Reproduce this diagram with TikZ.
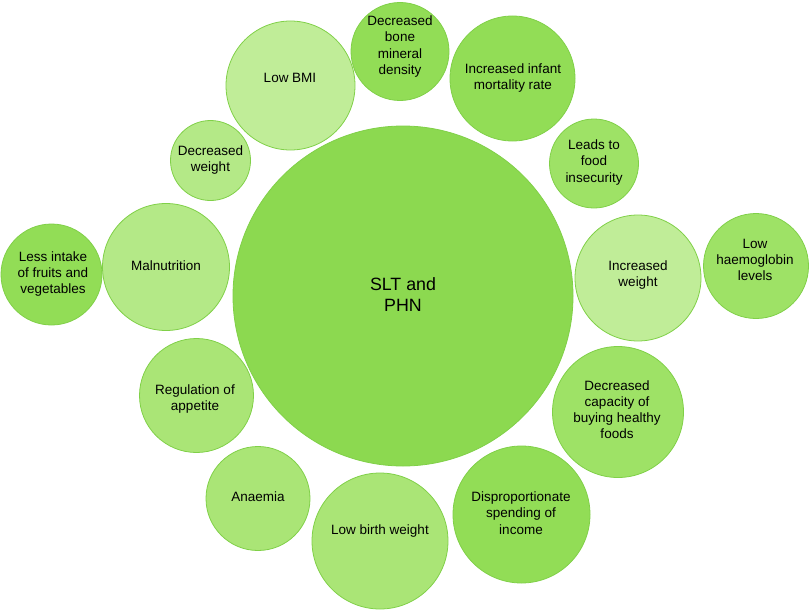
\documentclass[tikz,border=0pt]{standalone}
\usepackage{fontspec}
\setmainfont{Liberation Sans}
\definecolor{cCentral}{RGB}{140,217,80}
\definecolor{cLight}{RGB}{192,237,152}
\definecolor{cLightB}{RGB}{180,233,135}
\definecolor{cMid}{RGB}{170,229,118}
\definecolor{cDark}{RGB}{146,221,86}
\definecolor{cDarkB}{RGB}{158,226,102}
\definecolor{cEdge}{RGB}{128,208,72}
\tikzset{
  bub/.style={circle, draw=cEdge, line width=0.8pt, inner sep=0pt, minimum size=#1},
  txt/.style={align=center, font=\fontsize{13.5}{16.2}\selectfont, text=black, inner sep=0pt},
  bigtxt/.style={align=center, font=\fontsize{17.8}{21}\selectfont, text=black, inner sep=0pt}
}
\begin{document}
\begin{tikzpicture}[x=1pt,y=-1pt]
\useasboundingbox (0,0) rectangle (810,610);
% central
\node[bub=340pt, fill=cCentral] (c0) at (403,296) {};
\node[bigtxt] (t0) at (403,294.5) {SLT and\\PHN};
% top
\node[bub=129pt, fill=cLight] (c1) at (290.5,85.5) {};
\node[txt] (t1) at (290,78) {Low BMI};
\node[bub=98pt, fill=cDark] (c2) at (400,51.5) {};
\node[txt] (t2) at (400,46.5) {Decreased\\bone\\mineral\\density};
\node[bub=125pt, fill=cDark] (c3) at (512.5,78.5) {};
\node[txt] (t3) at (513,78) {Increased infant\\mortality rate};
\node[bub=89pt, fill=cDarkB] (c4) at (594,163.5) {};
\node[txt] (t4) at (594,162.5) {Leads to\\food\\insecurity};
% left
\node[bub=80pt, fill=cLightB] (c5) at (210.5,160.5) {};
\node[txt] (t5) at (210.5,160) {Decreased\\weight};
\node[bub=127pt, fill=cLightB] (c6) at (166,267) {};
\node[txt] (t6) at (166,266) {Malnutrition};
\node[bub=101pt, fill=cDark] (c7) at (51.5,274.5) {};
\node[txt] (t7) at (53,274) {Less intake\\of fruits and\\vegetables};
\node[bub=114pt, fill=cMid] (c8) at (196.5,395.5) {};
\node[txt] (t8) at (195,399) {Regulation of\\appetite};
% right
\node[bub=126pt, fill=cLight] (c9) at (638,278) {};
\node[txt] (t9) at (638,275) {Increased\\weight};
\node[bub=105pt, fill=cDarkB] (c10) at (756,266) {};
\node[txt] (t10) at (755,260) {Low\\haemoglobin\\levels};
\node[bub=131pt, fill=cDarkB] (c11) at (618,412) {};
\node[txt] (t11) at (617,409.5) {Decreased\\capacity of\\buying healthy\\foods};
% bottom
\node[bub=104pt, fill=cMid] (c12) at (258,498.5) {};
\node[txt] (t12) at (258,497) {Anaemia};
\node[bub=136pt, fill=cMid] (c13) at (380,541) {};
\node[txt] (t13) at (380,531) {Low birth weight};
\node[bub=137pt, fill=cDark] (c14) at (521.5,514.5) {};
\node[txt] (t14) at (521,513) {Disproportionate\\spending of\\income};
\end{tikzpicture}
\end{document}
